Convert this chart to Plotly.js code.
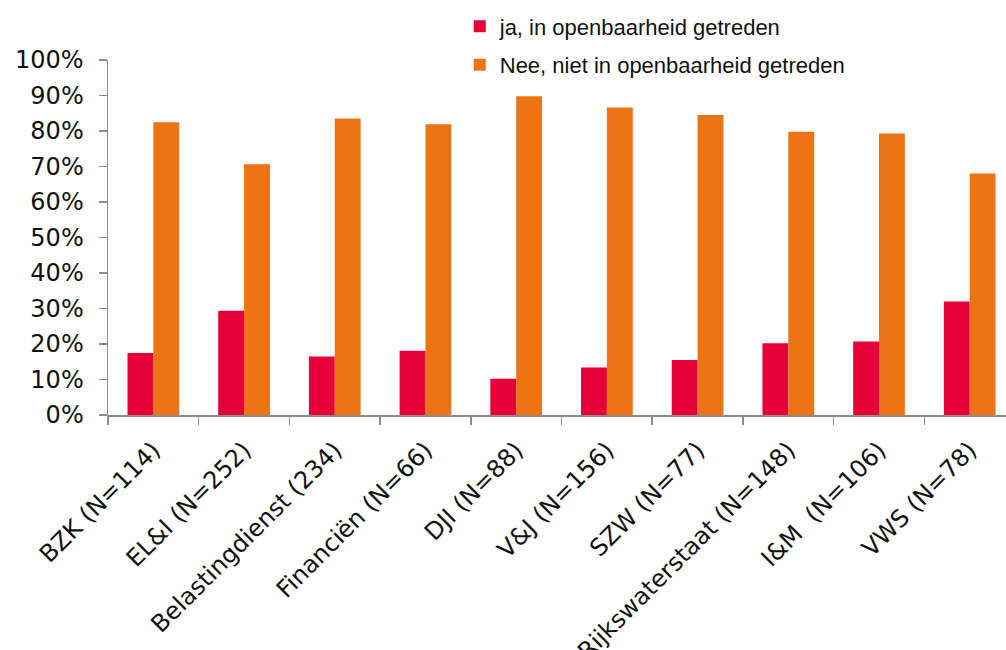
<!DOCTYPE html>
<html>
<head>
<meta charset="utf-8">
<script src="https://cdn.plot.ly/plotly-3.0.1.min.js"></script>
<style>html,body{margin:0;padding:0;background:#fff;}#chart{width:1006px;height:650px;}</style>
</head>
<body>
<div id="chart"></div>
<script>
var categories = ["BZK (N=114)", "EL&I (N=252)", "Belastingdienst (234)", "Financiën (N=66)", "DJI (N=88)", "V&J (N=156)", "SZW (N=77)", "Rijkswaterstaat (N=148)", "I&M  (N=106)", "VWS (N=78)"];
var jaValues = [17.5, 29.4, 16.5, 18.1, 10.2, 13.4, 15.5, 20.2, 20.7, 32.0];
var neeValues = [82.5, 70.6, 83.5, 81.9, 89.8, 86.6, 84.5, 79.8, 79.3, 68.0];
var seriesNames = ["ja, in openbaarheid getreden", "Nee, niet in openbaarheid getreden"];
var yTickVals = [0, 10, 20, 30, 40, 50, 60, 70, 80, 90, 100];
var yTickText = ["0%", "10%", "20%", "30%", "40%", "50%", "60%", "70%", "80%", "90%", "100%"];

function tickFont() { return {family: "DejaVu Sans", size: 24, color: "#111"}; }

var data = [
  {type: "bar", name: seriesNames[0], legendgroup: "ja", x: categories, y: jaValues, marker: {color: "#E60037", line: {width: 0}}},
  {type: "bar", name: seriesNames[1], legendgroup: "nee", x: categories, y: neeValues, marker: {color: "#EE7314", line: {width: 0}}}
];

var layout = {
  width: 1006, height: 650,
  margin: {l: 108, r: 0, t: 60, b: 235},
  paper_bgcolor: "#fff", plot_bgcolor: "#fff",
  barmode: "group", bargap: 0.43, bargroupgap: 0,
  showlegend: true,
  legend: {
    x: 0.3917, xanchor: "left", y: 1.154, yanchor: "top",
    font: {family: "Liberation Sans", size: 22, color: "#111"},
    bgcolor: "rgba(0,0,0,0)", itemwidth: 30,
    traceorder: "grouped", tracegroupgap: 7
  },
  xaxis: {
    type: "category", range: [-0.5, 9.4],
    tickangle: -45, tickfont: tickFont(), ticklabelstandoff: 10,
    showline: true, linecolor: "#8c8c8c", linewidth: 1.5,
    ticks: "outside", tickson: "boundaries", ticklen: 8, tickcolor: "#8c8c8c", tickwidth: 1.5,
    showgrid: false, zeroline: false, fixedrange: true
  },
  yaxis: {
    range: [0, 100], tickmode: "array", tickvals: yTickVals, ticktext: yTickText,
    tickfont: tickFont(), ticklabelstandoff: 10,
    showline: true, linecolor: "#8c8c8c", linewidth: 1.5,
    ticks: "outside", ticklen: 8, tickcolor: "#8c8c8c", tickwidth: 1.5,
    showgrid: false, zeroline: false, fixedrange: true
  }
};

Plotly.newPlot("chart", data, layout, {displayModeBar: false, staticPlot: true});
</script>
</body>
</html>
